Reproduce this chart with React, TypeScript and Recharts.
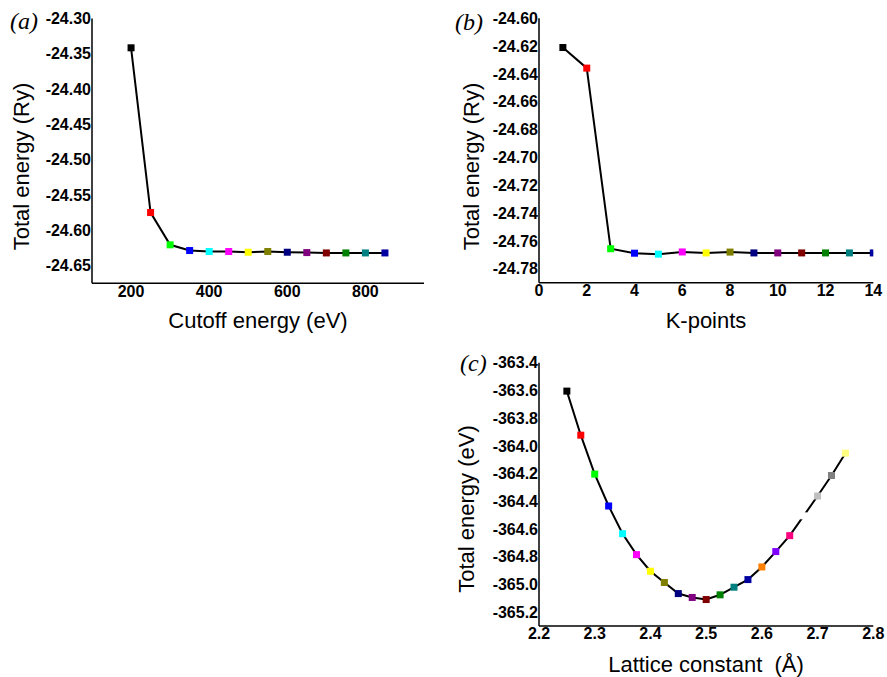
import React from 'react';
import { LineChart, Line, XAxis, YAxis } from 'recharts';

// ---------- data ----------
const cutoffEnergy = [200, 250, 300, 350, 400, 450, 500, 550, 600, 650, 700, 750, 800, 850];
const cutoffTotal = [-24.3415, -24.5748, -24.6205, -24.6286, -24.630, -24.630, -24.631, -24.630, -24.631, -24.6315, -24.632, -24.632, -24.632, -24.632];

const kPoints = [1, 2, 3, 4, 5, 6, 7, 8, 9, 10, 11, 12, 13, 14];
const kTotal = [-24.621, -24.6358, -24.7656, -24.7688, -24.7695, -24.7679, -24.7686, -24.768, -24.7686, -24.7686, -24.7686, -24.7686, -24.7686, -24.7686];

const latticeConst = [2.25, 2.275, 2.3, 2.325, 2.35, 2.375, 2.4, 2.425, 2.45, 2.475, 2.5, 2.525, 2.55, 2.575, 2.6, 2.625, 2.65, 2.675, 2.7, 2.725, 2.75];
const latticeTotal = [-363.605, -363.923, -364.204, -364.434, -364.634, -364.785, -364.905, -364.986, -365.066, -365.094, -365.109, -365.075, -365.020, -364.965, -364.874, -364.763, -364.648, -364.505, -364.362, -364.214, -364.053];

const ticksA_X = [200, 400, 600, 800];
const ticksA_Y = [-24.30, -24.35, -24.40, -24.45, -24.50, -24.55, -24.60, -24.65];
const ticksB_X = [0, 2, 4, 6, 8, 10, 12, 14];
const ticksB_Y = [-24.60, -24.62, -24.64, -24.66, -24.68, -24.70, -24.72, -24.74, -24.76, -24.78];
const ticksC_X = [2.2, 2.3, 2.4, 2.5, 2.6, 2.7, 2.8];
const ticksC_Y = [-363.4, -363.6, -363.8, -364.0, -364.2, -364.4, -364.6, -364.8, -365.0, -365.2];

const markerColors = ['#000000', '#FF0000', '#00FF00', '#0000FF', '#00FFFF', '#FF00FF', '#FFFF00', '#808000', '#000080', '#800080', '#800000', '#008000', '#008080', '#0000A0', '#FF8000', '#8000FF', '#FF0080', '#FFFFFF', '#C0C0C0', '#808080', '#FFFF80'];

const dataA = cutoffEnergy.map((x, i) => ({ x, y: cutoffTotal[i] }));
const dataB = kPoints.map((x, i) => ({ x, y: kTotal[i] }));
const dataC = latticeConst.map((x, i) => ({ x, y: latticeTotal[i] }));

// ---------- styles ----------
const SANS = 'Liberation Sans, Arial, sans-serif';
const axisLineStyle = { stroke: '#000', strokeWidth: 1.5 };

const makeXTick = (digits: number) => (p: any) => {
  const v = p.payload && p.payload.value;
  return (
    <text
      key={`xt${v}`}
      x={p.x}
      y={p.y}
      dy="0.71em"
      textAnchor="middle"
      fontSize={16}
      fontWeight="bold"
      fontFamily={SANS}
      fill="#000"
    >
      {digits >= 0 ? Number(v).toFixed(digits) : String(v)}
    </text>
  );
};

const makeYTick = (digits: number) => (p: any) => {
  const v = p.payload && p.payload.value;
  return (
    <text
      key={`yt${v}`}
      x={p.x}
      y={p.y}
      dy="0.355em"
      textAnchor="end"
      fontSize={16}
      fontWeight="bold"
      fontFamily={SANS}
      fill="#000"
    >
      {Number(v).toFixed(digits)}
    </text>
  );
};

const renderDot = (p: any) => {
  const { cx, cy, index } = p;
  if (cx == null || cy == null) return <g key={`d${index}`} />;
  return (
    <rect
      key={`d${index}`}
      x={cx - 3.5}
      y={cy - 3.5}
      width={7}
      height={7}
      fill={markerColors[index % markerColors.length]}
      stroke="none"
    />
  );
};

const xTitle = (x: number, y: number, text: string) => () => (
  <text x={x} y={y} textAnchor="middle" fontSize={22} fontFamily={SANS} fill="#000" style={{ whiteSpace: 'pre' }}>
    {text}
  </text>
);

const yTitle = (x: number, y: number, text: string) => () => (
  <text
    x={x}
    y={y}
    dy="0.355em"
    transform={`rotate(-90 ${x} ${y})`}
    textAnchor="middle"
    fontSize={22}
    fontFamily={SANS}
    fill="#000"
  >
    {text}
  </text>
);

export default function App() {
  return (
    <div style={{ position: 'absolute', left: 0, top: 0, width: 887, height: 677, background: '#fff' }}>
      {/* (a) */}
      <div style={{ position: 'absolute', left: 0, top: 0 }}>
        <LineChart width={440} height={345} data={dataA} margin={{ top: 18.5, right: 16, bottom: 41.7, left: 0 }}>
          <XAxis
            dataKey="x"
            type="number"
            domain={[100, 950]}
            allowDataOverflow
            ticks={ticksA_X}
            tick={makeXTick(-1)}
            tickLine={false}
            tickSize={0}
            tickMargin={2}
            axisLine={axisLineStyle}
            height={20}
            interval={0}
            label={{ content: xTitle(258, 328, 'Cutoff energy (eV)') }}
          />
          <YAxis
            type="number"
            domain={[-24.675, -24.3]}
            allowDataOverflow
            ticks={ticksA_Y}
            tick={makeYTick(2)}
            tickLine={false}
            tickSize={0}
            tickMargin={1}
            axisLine={axisLineStyle}
            width={92}
            interval={0}
            label={{ content: yTitle(21, 166.5, 'Total energy (Ry)') }}
          />
          <Line dataKey="y" type="linear" stroke="#000" strokeWidth={2} dot={renderDot} isAnimationActive={false} />
        </LineChart>
      </div>

      {/* (b) */}
      <div style={{ position: 'absolute', left: 440, top: 0 }}>
        <LineChart width={447} height={345} data={dataB} margin={{ top: 18.3, right: 13.7, bottom: 42.3, left: 0 }}>
          <XAxis
            dataKey="x"
            type="number"
            domain={[0, 14]}
            allowDataOverflow
            ticks={ticksB_X}
            tick={makeXTick(-1)}
            tickLine={false}
            tickSize={0}
            tickMargin={2}
            axisLine={axisLineStyle}
            height={20}
            interval={0}
            label={{ content: xTitle(266, 328, 'K-points') }}
          />
          <YAxis
            type="number"
            domain={[-24.79, -24.6]}
            allowDataOverflow
            ticks={ticksB_Y}
            tick={makeYTick(2)}
            tickLine={false}
            tickSize={0}
            tickMargin={1}
            axisLine={axisLineStyle}
            width={99}
            interval={0}
            label={{ content: yTitle(31, 166.5, 'Total energy (Ry)') }}
          />
          <Line dataKey="y" type="linear" stroke="#000" strokeWidth={2} dot={renderDot} isAnimationActive={false} />
        </LineChart>
      </div>

      {/* (c) */}
      <div style={{ position: 'absolute', left: 440, top: 340 }}>
        <LineChart width={447} height={337} data={dataC} margin={{ top: 22.7, right: 13.7, bottom: 31, left: 0 }}>
          <XAxis
            dataKey="x"
            type="number"
            domain={[2.2, 2.8]}
            allowDataOverflow
            ticks={ticksC_X}
            tick={makeXTick(1)}
            tickLine={false}
            tickSize={0}
            tickMargin={2}
            axisLine={axisLineStyle}
            height={20}
            interval={0}
            label={{ content: xTitle(266, 332, 'Lattice constant  (Å)') }}
          />
          <YAxis
            type="number"
            domain={[-365.3, -363.4]}
            allowDataOverflow
            ticks={ticksC_Y}
            tick={makeYTick(1)}
            tickLine={false}
            tickSize={0}
            tickMargin={1}
            axisLine={axisLineStyle}
            width={99}
            interval={0}
            label={{ content: yTitle(26, 169, 'Total energy (eV)') }}
          />
          <Line dataKey="y" type="linear" stroke="#000" strokeWidth={2} dot={renderDot} isAnimationActive={false} />
        </LineChart>
      </div>

      {/* panel labels */}
      <svg width={887} height={677} style={{ position: 'absolute', left: 0, top: 0, pointerEvents: 'none' }}>
        <g fontFamily="Liberation Serif, Times New Roman, serif" fontStyle="italic" fontSize={24} fill="#000">
          <text x={10} y={28.5}>(a)</text>
          <text x={455} y={30}>(b)</text>
          <text x={460} y={371}>(c)</text>
        </g>
      </svg>
    </div>
  );
}
